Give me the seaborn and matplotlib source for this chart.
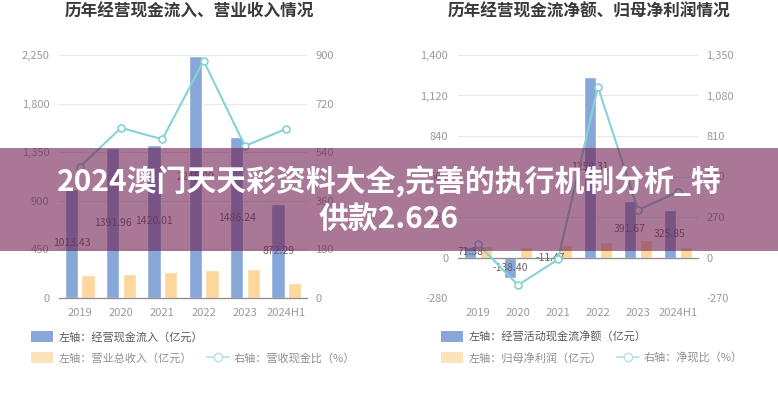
import matplotlib
matplotlib.use("Agg")
import matplotlib.pyplot as plt
import pandas as pd
import seaborn as sns
from matplotlib.patches import Patch, Rectangle
from matplotlib.lines import Line2D
from matplotlib.ticker import FuncFormatter

# Data
years = ['2019', '2020', '2021', '2022', '2023', '2024H1']

# left chart
cash_inflow = [1013.43, 1391.96, 1420.01, 2245.00, 1486.24, 872.29]
total_revenue = [209, 221, 241, 256, 264, 139]
cash_revenue_ratio = [485, 630, 588, 878, 563, 627]

# right chart
net_cash_flow = [71.38, -138.40, -11.47, 1250.31, 391.67, 325.85]
net_profit = [80, 75, 86, 110, 123, 74]
net_cash_ratio = [89, -184, -13, 1137, 317, 437]

left_ticks = [0, 450, 900, 1350, 1800, 2250]
left_ticks_r = [0, 180, 360, 540, 720, 900]
right_ticks = [-280, 0, 280, 560, 840, 1120, 1400]
right_ticks_r = [-270, 0, 270, 540, 810, 1080, 1350]

blue = '#87a7d9'
orange = '#fdd79e'
teal = '#86d3d3'
grey_txt = '#9a9a9a'

sns.set_theme(style='white')
plt.rcParams['font.family'] = ['Noto Sans CJK SC', 'DejaVu Sans']

fig = plt.figure(figsize=(7.78, 4), dpi=100)
fig.patch.set_facecolor('white')


def draw_panel(ax, bar1, bar2, ratio, name1, name2, yticks, yticks_r, zero_mid):
    df = pd.DataFrame({
        'year': years * 2,
        'series': [name1] * len(years) + [name2] * len(years),
        'value': bar1 + bar2,
    })
    sns.barplot(data=df, x='year', y='value', hue='series', order=years,
                hue_order=[name1, name2], palette=[blue, orange],
                gap=0.2, saturation=1, legend=False, ax=ax, zorder=2)
    # value labels in the middle of the blue bars
    ax.bar_label(ax.containers[0], fmt='%.2f', label_type='center',
                 fontsize=7.5, color='#666666', zorder=3)

    ax.set_xlim(-0.5, len(years) - 0.5)
    ax.set_ylim(yticks[0], yticks[-1])
    ax.set_yticks(yticks)
    ax.yaxis.set_major_formatter(FuncFormatter(lambda v, p: f'{v:,.0f}'))
    ax.grid(axis='y', color='#e8e8e8', linewidth=0.8)
    ax.set_axisbelow(True)
    ax.set_xlabel('')
    ax.set_ylabel('')
    for s in ['top', 'left', 'right']:
        ax.spines[s].set_visible(False)
    ax.spines['bottom'].set_color('#8c8c8c')
    ax.spines['bottom'].set_linewidth(0.9)
    ax.tick_params(axis='y', length=0, pad=7, labelsize=8, labelcolor=grey_txt)
    ax.set_xticks(range(len(years)))
    if zero_mid:
        # zero line in the middle, labels stay at the bottom
        ax.spines['bottom'].set_position(('data', 0))
        ax.tick_params(axis='x', labelbottom=False, length=4, width=0.8,
                       color='#8c8c8c', direction='out')
        sec = ax.secondary_xaxis('bottom')
        sec.set_xticks(range(len(years)), labels=years)
        sec.spines['bottom'].set_visible(False)
        sec.tick_params(length=0, pad=7, labelsize=8, labelcolor=grey_txt)
    else:
        ax.set_xticklabels(years)
        ax.tick_params(axis='x', length=4, width=0.8, color='#8c8c8c', pad=3,
                       labelsize=8, labelcolor=grey_txt)

    ax2 = ax.twinx()
    sns.lineplot(x=years, y=ratio, sort=False, color=teal, linewidth=1.5,
                 marker='o', markersize=5, markerfacecolor='white',
                 markeredgecolor=teal, markeredgewidth=1.2, ax=ax2, zorder=4)
    ax2.set_ylim(yticks_r[0], yticks_r[-1])
    ax2.set_yticks(yticks_r)
    ax2.yaxis.set_major_formatter(FuncFormatter(lambda v, p: f'{v:,.0f}'))
    ax2.tick_params(axis='y', length=0, pad=6, labelsize=8, labelcolor=grey_txt)
    ax2.grid(False)
    for s in ['top', 'left', 'right', 'bottom']:
        ax2.spines[s].set_visible(False)
    return ax2


ax_l = fig.add_axes([59 / 778, 102 / 400, 248 / 778, 243 / 400])
draw_panel(ax_l, cash_inflow, total_revenue, cash_revenue_ratio,
           '经营现金流入', '营业总收入', left_ticks, left_ticks_r, False)

ax_r = fig.add_axes([458 / 778, 102 / 400, 240 / 778, 243 / 400])
draw_panel(ax_r, net_cash_flow, net_profit, net_cash_ratio,
           '经营活动现金流净额', '归母净利润', right_ticks, right_ticks_r, True)

# Titles
fig.text(189 / 778, 1 - 12 / 400, '历年经营现金流入、营业收入情况', ha='center', va='center',
         fontsize=12, fontweight='bold', color='#3a3a3a')
fig.text(589 / 778, 1 - 12 / 400, '历年经营现金流净额、归母净利润情况', ha='center', va='center',
         fontsize=12, fontweight='bold', color='#3a3a3a')


# Legends (two rows per chart)
def add_legends(x0, name_bar1, name_bar2, name_line):
    h1 = [Patch(facecolor=blue, edgecolor='none', label=name_bar1)]
    h2 = [Patch(facecolor='#fde3bd', edgecolor='none', label=name_bar2),
          Line2D([], [], color='#b5e3e3', linewidth=1.3, marker='o', markersize=6,
                 markerfacecolor='white', markeredgecolor='#b5e3e3', label=name_line)]
    leg1 = fig.legend(handles=h1, loc='center left', bbox_to_anchor=(x0 / 778, 1 - 337 / 400),
                      frameon=False, fontsize=8, handlelength=2.0, handleheight=1.1,
                      handletextpad=0.45, borderpad=0, borderaxespad=0)
    for t in leg1.get_texts():
        t.set_color('#5a5a5a')
    leg2 = fig.legend(handles=h2, loc='center left', bbox_to_anchor=(x0 / 778, 1 - 358 / 400),
                      frameon=False, fontsize=8, handlelength=2.0, handleheight=1.1,
                      handletextpad=0.45, columnspacing=1.35, ncol=2,
                      borderpad=0, borderaxespad=0)
    for t in leg2.get_texts():
        t.set_color('#8f8f8f')


add_legends(31, '左轴：经营现金流入（亿元）', '左轴：营业总收入（亿元）', '右轴：营收现金比（%）')
add_legends(441, '左轴：经营活动现金流净额（亿元）', '左轴：归母净利润（亿元）', '右轴：净现比（%）')

# Translucent banner across the middle
band = Rectangle((0, 1 - 251 / 400), 1, 103 / 400, transform=fig.transFigure,
                 facecolor=(110 / 255, 30 / 255, 80 / 255), alpha=0.6,
                 edgecolor='none', zorder=10)
fig.add_artist(band)
fig.text(389 / 778, 1 - 200 / 400, '2024澳门天天彩资料大全,完善的执行机制分析_特\n供款2.626',
         ha='center', va='center', multialignment='center', fontsize=21.5,
         fontweight='bold', color='white', linespacing=1.22, zorder=11)

fig.savefig('out.png', dpi=100)
